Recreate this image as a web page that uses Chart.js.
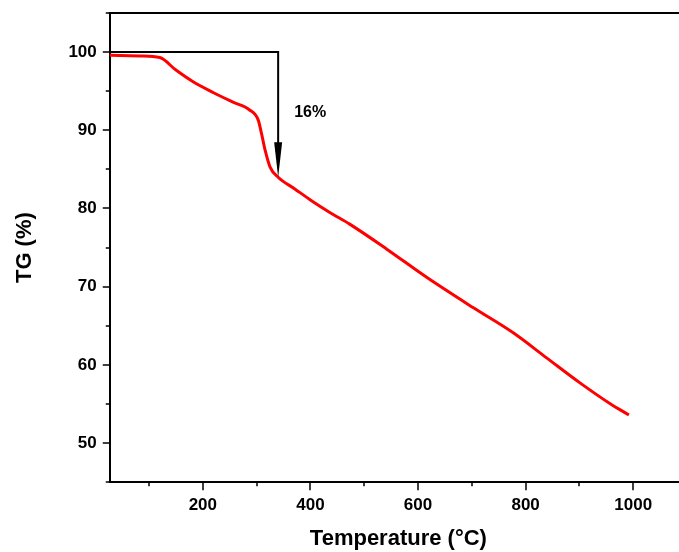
<!DOCTYPE html>
<html>
<head>
<meta charset="utf-8">
<script src="https://cdn.jsdelivr.net/npm/chart.js@4.4.1/dist/chart.umd.min.js"></script>
<style>
  html, body { margin: 0; padding: 0; background: #fff; }
  #wrap { width: 679px; height: 552px; overflow: hidden; }
</style>
</head>
<body>
<div id="wrap"><canvas id="tgChart" width="690" height="552"></canvas></div>
<script>
"use strict";

// TG curve
const temperature = [27, 83, 120, 150, 182, 220, 256, 287, 303, 309, 316, 325, 340, 371, 402, 436, 473, 542, 616, 703, 777, 839, 901, 958, 992];
const tgPercent = [99.6, 99.5, 99.3, 97.7, 96.2, 94.8, 93.6, 92.6, 91.3, 89.6, 87.4, 85.3, 84.0, 82.5, 81.0, 79.5, 78.0, 74.8, 71.2, 67.3, 64.1, 60.9, 57.7, 55.0, 53.6];

// axis ticks
const xTicks = [100, 200, 300, 400, 500, 600, 700, 800, 900, 1000];
const xLabels = [200, 400, 600, 800, 1000];
const yTicks = [45, 50, 55, 60, 65, 70, 75, 80, 85, 90, 95, 100, 105];
const yLabels = [50, 60, 70, 80, 90, 100];

// weight loss marker
const lossAt = 340;
const lossFrom = 100;
const lossTo = 84;
const lossText = "16%";

const font = "'Liberation Sans', Arial, sans-serif";
const ctx = document.getElementById("tgChart").getContext("2d");

const frame = {
  id: "frame",
  afterDraw(chart) {
    const { ctx, chartArea: a, scales: { x, y } } = chart;
    ctx.save();
    ctx.strokeStyle = "#000";
    ctx.fillStyle = "#000";
    ctx.lineWidth = 2;
    ctx.beginPath();
    ctx.moveTo(a.left - 1, a.top);
    ctx.lineTo(a.right, a.top);
    ctx.stroke();

    ctx.lineWidth = 1.5;
    ctx.beginPath();
    xTicks.forEach((v) => {
      const px = Math.round(x.getPixelForValue(v));
      const len = xLabels.includes(v) ? 8 : 4;
      ctx.moveTo(px, a.bottom);
      ctx.lineTo(px, a.bottom + len);
    });
    yTicks.forEach((v) => {
      const py = Math.round(y.getPixelForValue(v));
      const len = yLabels.includes(v) ? 7 : 4;
      ctx.moveTo(a.left, py);
      ctx.lineTo(a.left - len, py);
    });
    ctx.stroke();

    // 16% arrow
    const ax = x.getPixelForValue(lossAt);
    const yTop = y.getPixelForValue(lossFrom);
    const yTip = y.getPixelForValue(lossTo);
    ctx.lineWidth = 2;
    ctx.beginPath();
    ctx.moveTo(a.left, yTop);
    ctx.lineTo(ax, yTop);
    ctx.lineTo(ax, yTip - 30);
    ctx.stroke();
    ctx.beginPath();
    ctx.moveTo(ax - 4, yTip - 35);
    ctx.lineTo(ax + 4, yTip - 35);
    ctx.lineTo(ax, yTip);
    ctx.closePath();
    ctx.fill();

    ctx.font = "bold 16px " + font;
    ctx.textBaseline = "middle";
    ctx.fillText(lossText, ax + 16, y.getPixelForValue(92.3));
    ctx.restore();
  },
};

new Chart(ctx, {
  type: "line",
  data: {
    datasets: [
      {
        data: temperature.map((t, i) => ({ x: t, y: tgPercent[i] })),
        borderColor: "#ff0000",
        borderWidth: 3,
        pointRadius: 0,
        fill: false,
        cubicInterpolationMode: "monotone",
      },
    ],
  },
  options: {
    responsive: false,
    animation: false,
    layout: { padding: { left: 12, right: 3, top: 13, bottom: 0 } },
    plugins: { legend: { display: false }, tooltip: { enabled: false } },
    scales: {
      x: {
        type: "linear",
        min: 27,
        max: 1100,
        afterBuildTicks: (s) => { s.ticks = xTicks.map((v) => ({ value: v })); },
        ticks: {
          autoSkip: false,
          maxRotation: 0,
          padding: 13,
          color: "#000",
          font: { family: font, size: 17, weight: "bold" },
          callback: (v) => (xLabels.includes(v) ? v : ""),
        },
        grid: { drawOnChartArea: false, drawTicks: false },
        border: { color: "#000", width: 2 },
        title: {
          display: true,
          text: "Temperature (°C)",
          color: "#000",
          padding: { top: -3, bottom: 0 },
          font: { family: font, size: 22, weight: "bold" },
        },
      },
      y: {
        min: 45,
        max: 105,
        afterBuildTicks: (s) => { s.ticks = yTicks.map((v) => ({ value: v })); },
        afterFit: (s) => { s.paddingTop = 0; s.paddingBottom = 0; },
        ticks: {
          autoSkip: false,
          padding: 13,
          color: "#000",
          font: { family: font, size: 17, weight: "bold" },
          callback: (v) => (yLabels.includes(v) ? v : ""),
        },
        grid: { drawOnChartArea: false, drawTicks: false },
        border: { color: "#000", width: 2 },
        title: {
          display: true,
          text: "TG (%)",
          color: "#000",
          padding: { top: 0, bottom: 17 },
          font: { family: font, size: 22, weight: "bold" },
        },
      },
    },
  },
  plugins: [frame],
});
</script>
</body>
</html>
